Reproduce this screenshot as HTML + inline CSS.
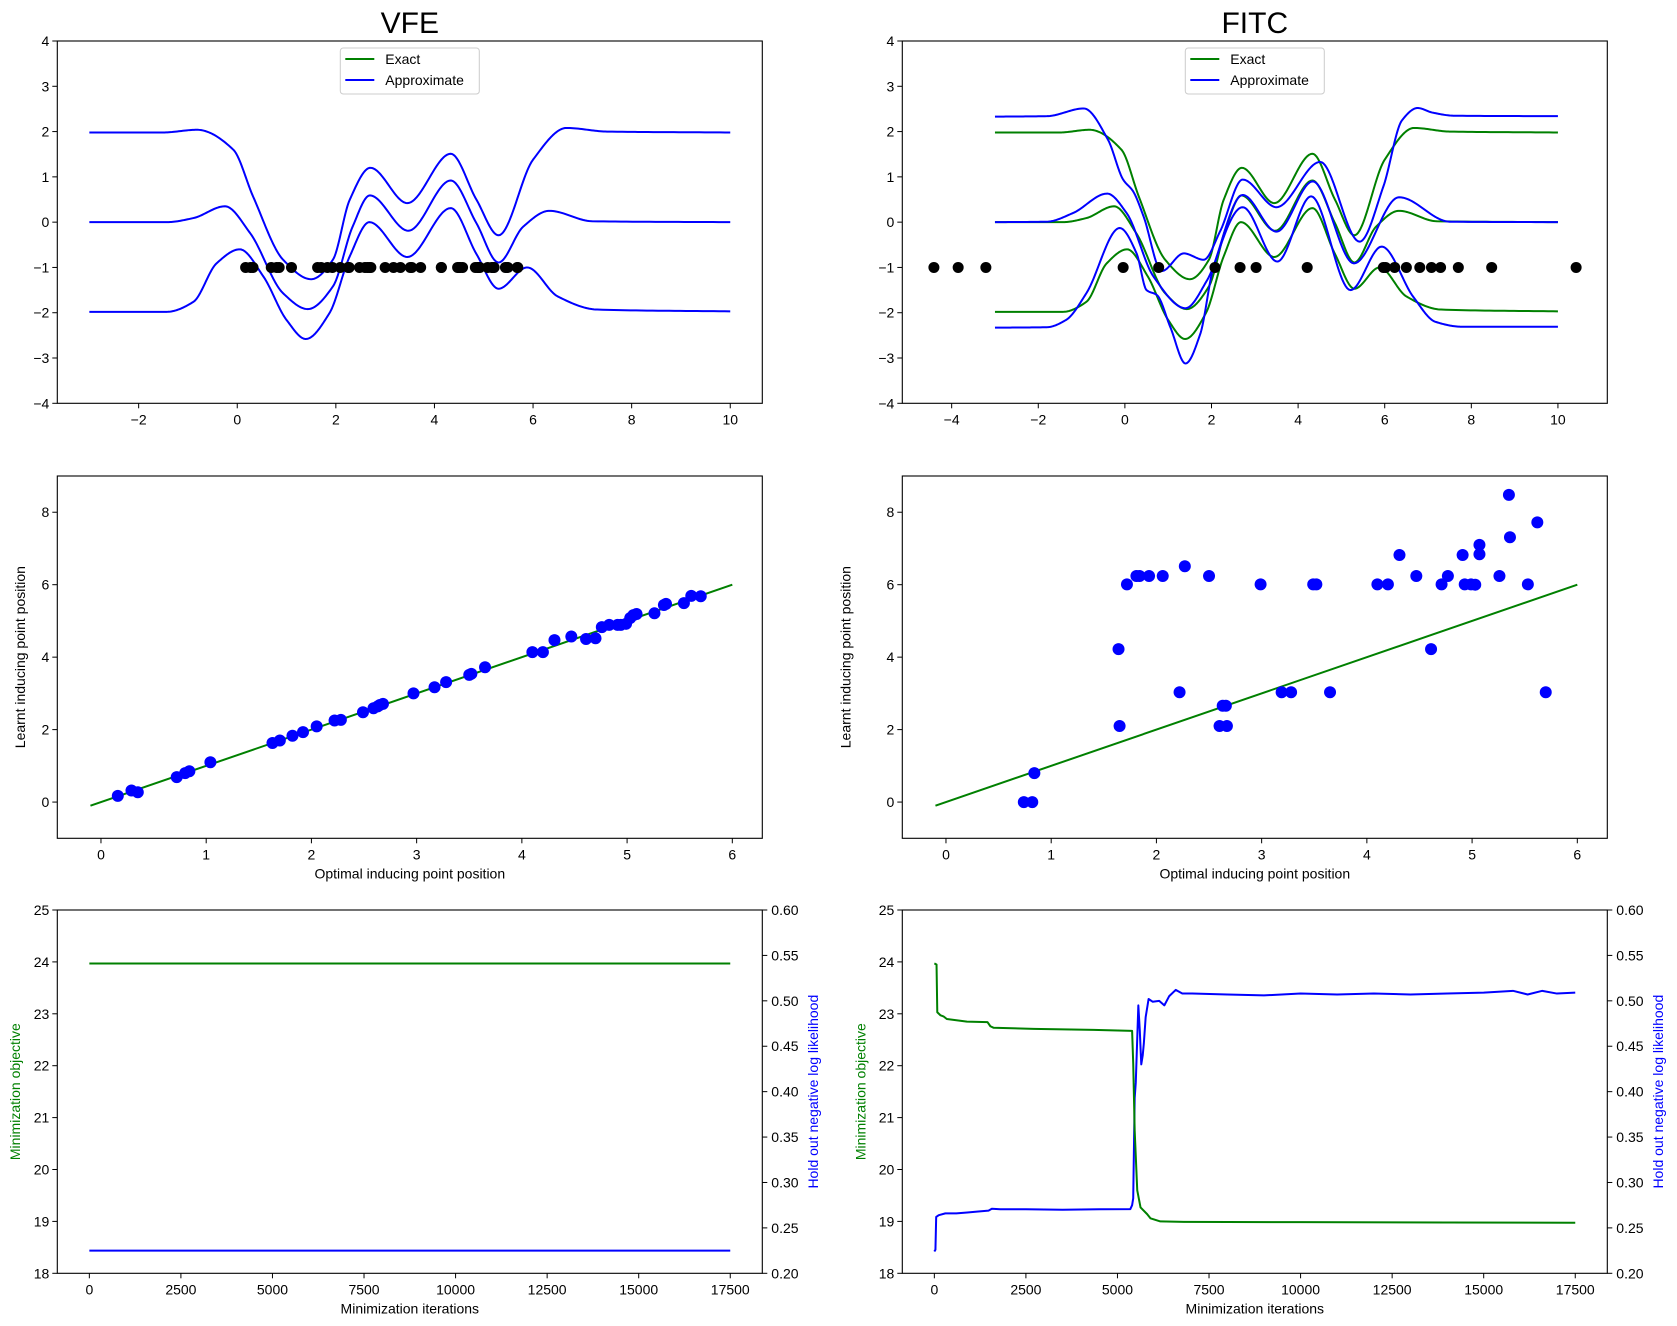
<!DOCTYPE html>
<html><head><meta charset="utf-8">
<style>
html,body{margin:0;padding:0;background:#fff;}
svg{display:block;font-family:"Liberation Sans","DejaVu Sans",sans-serif;}
</style></head>
<body>
<svg id="fig" width="1677" height="1326" viewBox="0 0 1677 1326" xmlns="http://www.w3.org/2000/svg">
<rect width="1677" height="1326" fill="#fff"/>
</svg>
<script>
// ===== DATA =====
const exUpX = [-3,-1.5,-0.82,-0.08,0.32,0.93,1.5,1.94,2.28,2.7,3.45,4.33,4.85,5.3,6.0,6.68,7.5,10];
const exUpY = [1.98,1.98,2.04,1.6,0.57,-0.83,-1.26,-0.83,0.49,1.2,0.42,1.51,0.5,-0.29,1.38,2.08,2.0,1.98];
const exMeanX = [-3,-1.43,-0.89,-0.25,0.26,0.93,1.43,1.94,2.34,2.69,3.47,4.33,4.85,5.3,5.8,6.33,7.2,10];
const exMeanY = [0,0,0.09,0.35,-0.24,-1.57,-1.92,-1.42,-0.1,0.59,-0.19,0.92,-0.02,-0.89,-0.1,0.25,0.02,0];
const exLoX = [-3,-1.43,-0.89,-0.42,0.05,0.53,1.0,1.39,1.87,2.28,2.68,3.45,4.33,4.85,5.3,5.88,6.5,7.3,10];
const exLoY = [-1.98,-1.98,-1.76,-0.91,-0.6,-1.2,-2.16,-2.58,-2.01,-0.76,0,-0.77,0.31,-0.7,-1.47,-1.0,-1.64,-1.93,-1.97];
const fiUpX = [-3,-1.8,-0.95,-0.39,-0.04,0.19,0.43,0.85,1.36,1.82,2.2,2.72,3.5,4.51,5.42,5.97,6.4,6.76,7.1,7.6,10];
const fiUpY = [2.33,2.34,2.51,1.82,0.94,0.68,0.13,-1.08,-0.69,-0.83,-0.2,0.94,0.33,1.33,-0.43,0.79,2.25,2.52,2.42,2.35,2.34];
const fiMeanX = [-3,-1.8,-1.2,-0.41,0.04,0.66,1.4,1.9,2.72,3.5,4.34,5.29,6.33,7.5,10];
const fiMeanY = [0,0.01,0.2,0.63,0.2,-1.2,-1.9,-1.28,0.6,-0.21,0.9,-0.91,0.55,0.01,0];
const fiLoX = [-3,-1.8,-1.36,-0.89,-0.12,0.27,0.5,0.74,1.05,1.4,1.74,2.05,2.72,3.52,4.3,5.21,5.93,6.66,7.17,7.8,10];
const fiLoY = [-2.33,-2.32,-2.16,-1.57,-0.13,-0.69,-1.5,-1.61,-2.32,-3.12,-2.47,-0.98,0.33,-0.87,0.57,-1.5,-0.54,-1.65,-2.2,-2.31,-2.31];
const vfeOpt = [0.16,0.29,0.35,0.72,0.8,0.84,1.04,1.63,1.7,1.82,1.92,2.05,2.22,2.28,2.49,2.59,2.63,2.65,2.68,2.97,3.17,3.28,3.5,3.52,3.65,4.1,4.2,4.31,4.47,4.61,4.7,4.76,4.83,4.91,4.94,4.99,5.03,5.06,5.09,5.26,5.35,5.37,5.54,5.61,5.7];
const vfeLearnt = [0.17,0.32,0.27,0.69,0.8,0.85,1.1,1.63,1.7,1.83,1.93,2.09,2.25,2.27,2.48,2.59,2.64,2.68,2.71,3.0,3.17,3.31,3.51,3.54,3.72,4.14,4.14,4.47,4.57,4.5,4.52,4.83,4.89,4.89,4.89,4.92,5.08,5.16,5.19,5.21,5.44,5.47,5.49,5.69,5.68];
const fitcOpt = [0.74,0.82,0.84,1.64,1.65,1.72,1.81,1.84,1.93,2.06,2.22,2.27,2.5,2.6,2.67,2.63,2.66,2.99,3.19,3.28,3.49,3.52,3.65,4.1,4.2,4.31,4.47,4.61,4.71,4.77,4.91,4.93,4.99,5.03,5.07,5.07,5.26,5.35,5.36,5.53,5.62,5.7];
const fitcLearnt = [0,0,0.8,4.22,2.1,6.01,6.24,6.24,6.24,6.24,3.03,6.51,6.24,2.1,2.1,2.66,2.66,6.01,3.03,3.03,6.01,6.01,3.03,6.01,6.01,6.82,6.24,4.22,6.01,6.24,6.82,6.01,6.01,6.0,6.84,7.1,6.24,8.48,7.31,6.01,7.72,3.03];
const fitcTopDots = [-4.41,-3.85,-3.21,-0.04,0.78,2.08,2.66,3.03,4.21,5.97,6.02,6.23,6.5,6.81,7.08,7.29,7.7,8.47,10.42];
const vfeIter = [0,17500];
const vfeObj = [23.97,23.97];
const vfeNll = [0.225,0.225];
const fiObjIter = [0,60,80,170,250,340,890,1450,1530,1620,2710,4350,5400,5430,5470,5540,5630,5810,5900,6170,6810,10000,14000,17500];
const fiObj = [23.97,23.95,23.03,22.97,22.95,22.9,22.85,22.84,22.76,22.73,22.71,22.69,22.67,22.05,20.75,19.6,19.27,19.14,19.06,19.0,18.99,18.985,18.98,18.975];
const fiNllIter = [0,30,50,120,300,600,900,1200,1480,1570,1800,2500,3500,4500,5350,5400,5430,5470,5500,5570,5610,5650,5690,5720,5770,5850,5960,6140,6280,6410,6590,6770,7040,8000,9000,10000,11000,12000,13000,14000,15000,15800,16200,16600,17000,17500];
const fiNll = [0.224,0.226,0.262,0.264,0.266,0.266,0.267,0.268,0.269,0.271,0.2705,0.2705,0.27,0.2705,0.2706,0.275,0.2826,0.393,0.41,0.495,0.467,0.43,0.44,0.453,0.482,0.502,0.499,0.5,0.495,0.505,0.512,0.508,0.508,0.507,0.506,0.508,0.507,0.508,0.507,0.508,0.509,0.511,0.507,0.511,0.508,0.509];

// ===== RENDER =====
const NS = "http://www.w3.org/2000/svg";
const svg = document.getElementById('fig');
function el(tag, attrs, parent){ const e=document.createElementNS(NS,tag); for(const k in attrs) e.setAttribute(k,attrs[k]); (parent||svg).appendChild(e); return e; }
function txt(s, attrs, parent){ const e=el('text',attrs,parent); e.textContent=s; return e; }
function fmtNum(v){ return (v<0?'\u2212':'')+Math.abs(v); }

function makeAxes(name, px0, px1, py0, py1, xmin, xmax, ymin, ymax){
  const g = el('g',{});
  
  
  return {g, sx:v=>px0+(v-xmin)/(xmax-xmin)*(px1-px0), sy:v=>py1-(v-ymin)/(ymax-ymin)*(py1-py0), px0,px1,py0,py1};
}
function frame(ax){
  const r = el('rect',{x:ax.px0,y:ax.py0,width:ax.px1-ax.px0,height:ax.py1-ax.py0,fill:'none',stroke:'#000','stroke-width':1.1},ax.g);
  
  
}
function xTicks(ax, ticks, labels){
  const g = el('g',{},ax.g);
  
  
  ticks.forEach((t,i)=>{ const x=ax.sx(t);
    el('line',{x1:x,x2:x,y1:ax.py1,y2:ax.py1+5,stroke:'#000','stroke-width':1},g);
    txt(labels[i],{x:x,y:ax.py1+21,'font-size':14,'text-anchor':'middle',fill:'#000'},g); });
}
function yTicks(ax, ticks, labels, right){
  const g = el('g',{},ax.g);
  
  
  ticks.forEach((t,i)=>{ const y=ax.sy(t);
    if(right){ el('line',{x1:ax.px1,x2:ax.px1+5,y1:y,y2:y,stroke:'#000','stroke-width':1},g);
      txt(labels[i],{x:ax.px1+9,y:y+5,'font-size':14,'text-anchor':'start',fill:'#000'},g);}
    else { el('line',{x1:ax.px0-5,x2:ax.px0,y1:y,y2:y,stroke:'#000','stroke-width':1},g);
      txt(labels[i],{x:ax.px0-8,y:y+5,'font-size':14,'text-anchor':'end',fill:'#000'},g);} });
}
// monotone cubic (Fritsch-Carlson) sampled
function smoothPath(ax, xs, ys){
  const n=xs.length, d=[], m=new Array(n);
  for(let i=0;i<n-1;i++) d.push((ys[i+1]-ys[i])/(xs[i+1]-xs[i]));
  m[0]=d[0]; m[n-1]=d[n-2];
  for(let i=1;i<n-1;i++){ if(d[i-1]*d[i]<=0) m[i]=0; else { const w1=2*(xs[i+1]-xs[i])+(xs[i]-xs[i-1]), w2=(xs[i+1]-xs[i])+2*(xs[i]-xs[i-1]); m[i]=(w1+w2)/(w1/d[i-1]+w2/d[i]); } }
  let path='';
  for(let i=0;i<n-1;i++){
    const h=xs[i+1]-xs[i], steps=24;
    for(let k=(i==0?0:1);k<=steps;k++){
      const t=k/steps, t2=t*t, t3=t2*t;
      const y=(2*t3-3*t2+1)*ys[i]+(t3-2*t2+t)*h*m[i]+(-2*t3+3*t2)*ys[i+1]+(t3-t2)*h*m[i+1];
      const x=xs[i]+t*h;
      path+=(path?'L':'M')+ax.sx(x).toFixed(2)+','+ax.sy(y).toFixed(2);
    }
  }
  return path;
}
function linePath(ax, xs, ys){ return xs.map((x,i)=>(i?'L':'M')+ax.sx(x).toFixed(2)+','+ax.sy(ys[i]).toFixed(2)).join(' '); }
function drawLine(ax, d, color, name){
  const p = el('path',{d:d,fill:'none',stroke:color,'stroke-width':2,'stroke-linejoin':'round'},ax.g);
  
  
}
function dots(ax, xs, ys, color, r, name){
  const g = el('g',{},ax.g);
  
  
  xs.forEach((x,i)=>{ const c=el('circle',{cx:ax.sx(x),cy:ax.sy(ys[i]),r:r,fill:color},g);
    
     });
}
function legend(ax){
  const w=139,h=46,cx=(ax.px0+ax.px1)/2, x=cx-w/2, y=48;
  const g = el('g',{},ax.g);
  
  
  el('rect',{x:x,y:y,width:w,height:h,rx:3,fill:'#fff','fill-opacity':0.8,stroke:'#ccc','stroke-width':1},g);
  const e1=el('g',{},g);
  
  
  el('line',{x1:x+5,x2:x+34,y1:y+11,y2:y+11,stroke:'#008000','stroke-width':2},e1);
  txt('Exact',{x:x+45,y:y+16,'font-size':14,fill:'#000'},e1);
  const e2=el('g',{},g);
  
  
  el('line',{x1:x+5,x2:x+34,y1:y+32,y2:y+32,stroke:'#0000ff','stroke-width':2},e2);
  txt('Approximate',{x:x+45,y:y+37,'font-size':14,fill:'#000'},e2);
}
function title(s, ax, name){
  const t=txt(s,{x:(ax.px0+ax.px1)/2,y:33,'font-size':30,'text-anchor':'middle',fill:'#000'});
  
  
}
function xlabel(s, ax, y){
  const t=txt(s,{x:(ax.px0+ax.px1)/2,y:y,'font-size':14,'text-anchor':'middle',fill:'#000'},ax.g);
  
  
}
function ylabel(s, x, ax, color, name){
  const cy=(ax.py0+ax.py1)/2;
  const t=txt(s,{x:x,y:cy,'font-size':14,'text-anchor':'middle',fill:color,transform:'rotate(-90 '+x+' '+cy+')'},ax.g);
  
  
}

const L0=57.3,L1=762.3,R0=902.3,R1=1607.3;
const T=[41,403.3], M=[476,838.3], B=[910,1273.3];
const G='#008000', BL='#0000ff';

let a = makeAxes('vfe-predictive-plot',L0,L1,T[0],T[1],-3.65,10.65,-4,4);
drawLine(a, smoothPath(a,exUpX,exUpY), BL,'vfe-approx-upper');
drawLine(a, smoothPath(a,exMeanX,exMeanY), BL,'vfe-approx-mean');
drawLine(a, smoothPath(a,exLoX,exLoY), BL,'vfe-approx-lower');
dots(a, vfeLearnt, vfeLearnt.map(()=>-1), '#000', 5.5, 'vfe-inducing-points');
frame(a); xTicks(a,[-2,0,2,4,6,8,10],[-2,0,2,4,6,8,10].map(fmtNum));
yTicks(a,[-4,-3,-2,-1,0,1,2,3,4],[-4,-3,-2,-1,0,1,2,3,4].map(fmtNum));
legend(a); title('VFE',a,'vfe-title');

a = makeAxes('fitc-predictive-plot',R0,R1,T[0],T[1],-5.14,11.14,-4,4);
drawLine(a, smoothPath(a,exUpX,exUpY), G,'fitc-exact-upper');
drawLine(a, smoothPath(a,exMeanX,exMeanY), G,'fitc-exact-mean');
drawLine(a, smoothPath(a,exLoX,exLoY), G,'fitc-exact-lower');
drawLine(a, smoothPath(a,fiUpX,fiUpY), BL,'fitc-approx-upper');
drawLine(a, smoothPath(a,fiMeanX,fiMeanY), BL,'fitc-approx-mean');
drawLine(a, smoothPath(a,fiLoX,fiLoY), BL,'fitc-approx-lower');
dots(a, fitcTopDots, fitcTopDots.map(()=>-1), '#000', 5.5, 'fitc-inducing-points');
frame(a); xTicks(a,[-4,-2,0,2,4,6,8,10],[-4,-2,0,2,4,6,8,10].map(fmtNum));
yTicks(a,[-4,-3,-2,-1,0,1,2,3,4],[-4,-3,-2,-1,0,1,2,3,4].map(fmtNum));
legend(a); title('FITC',a,'fitc-title');

a = makeAxes('vfe-inducing-scatter',L0,L1,M[0],M[1],-0.415,6.285,-1,9);
drawLine(a, linePath(a,[-0.1,6],[-0.1,6]), G,'identity-line');
dots(a, vfeOpt, vfeLearnt, BL, 6, 'vfe-learnt-points');
frame(a); xTicks(a,[0,1,2,3,4,5,6],['0','1','2','3','4','5','6']);
yTicks(a,[0,2,4,6,8],['0','2','4','6','8']);
xlabel('Optimal inducing point position',a,M[1]+40);
ylabel('Learnt inducing point position',25,a,'#000','y-axis-title');

a = makeAxes('fitc-inducing-scatter',R0,R1,M[0],M[1],-0.415,6.285,-1,9);
drawLine(a, linePath(a,[-0.1,6],[-0.1,6]), G,'identity-line');
dots(a, fitcOpt, fitcLearnt, BL, 6, 'fitc-learnt-points');
frame(a); xTicks(a,[0,1,2,3,4,5,6],['0','1','2','3','4','5','6']);
yTicks(a,[0,2,4,6,8],['0','2','4','6','8']);
xlabel('Optimal inducing point position',a,M[1]+40);
ylabel('Learnt inducing point position',R0-52,a,'#000','y-axis-title');

const itT=[0,2500,5000,7500,10000,12500,15000,17500];
const lT=[18,19,20,21,22,23,24,25];
const rT=[0.2,0.25,0.3,0.35,0.4,0.45,0.5,0.55,0.6];
function bottom(name,X0,X1,iterObj,obj,iterN,nll,ylx,yrx){
  const ax = makeAxes(name,X0,X1,B[0],B[1],-875,18375,18,25);
  const ax2 = makeAxes(name+'-right',X0,X1,B[0],B[1],-875,18375,0.2,0.6);
  ax.g.appendChild(ax2.g);
  drawLine(ax, linePath(ax,iterObj,obj), G,'objective-line');
  drawLine(ax2, linePath(ax2,iterN,nll), BL,'holdout-nll-line');
  frame(ax); xTicks(ax,itT,itT.map(String));
  yTicks(ax,lT,lT.map(String));
  yTicks(ax2,rT,rT.map(v=>v.toFixed(2)),true);
  xlabel('Minimization iterations',ax,B[1]+40);
  ylabel('Minimization objective',ylx,ax,G,'left-y-axis-title');
  ylabel('Hold out negative log likelihood',yrx,ax,BL,'right-y-axis-title');
}
bottom('vfe-optimisation-trace',L0,L1,vfeIter,vfeObj,vfeIter,vfeNll,20,818);
bottom('fitc-optimisation-trace',R0,R1,fiObjIter,fiObj,fiNllIter,fiNll,R0-37,1663);
</script>
</body></html>
